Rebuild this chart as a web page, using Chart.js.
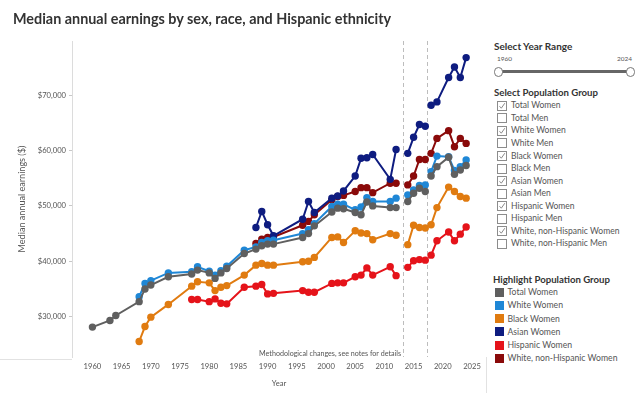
<!DOCTYPE html>
<html>
<head>
<meta charset="utf-8">
<script src="https://cdn.jsdelivr.net/npm/chart.js@4.4.1/dist/chart.umd.min.js"></script>
<style>
  body { margin: 0; width: 640px; height: 393px; background: #fff; overflow: hidden; position: relative; font-family: Lato, sans-serif; }
  #wrap { position: absolute; left: 0; top: 0; width: 490px; height: 393px; }
  .txt { position: absolute; white-space: nowrap; line-height: 14px; height: 14px; }
  .box { position: absolute; width: 8px; height: 8px; border: 1px solid #8c8c8c; background: #fff; }
  .box svg { position: absolute; left: 0; top: 0; }
  .sq { position: absolute; width: 9px; height: 9px; }
</style>
</head>
<body>
<div id="wrap"><canvas id="chart" width="490" height="393"></canvas></div>
<div id="side"></div>
<script>
// years shown in the chart (two methodology breaks: 2013 and 2017)
const years = [1960, 1963, 1964, 1968, 1969, 1970, 1973, 1977, 1978, 1980, 1981, 1982, 1983,
  1986, 1988, 1989, 1990, 1991, 1996, 1997, 1998, 2001, 2002, 2003, 2005, 2006, 2007, 2008,
  2011, 2012, 2014, 2015, 2016, 2017, 2018, 2019, 2021, 2022, 2023, 2024];
const breaks = [2013.2, 2017.3];

const totalWomen = [28100, 29300, 30200, 32700, 35000, 35700, 37200, 37700, 38400, 37900, 36900, 37900, 38700,
  41400, 42200, 42800, 43100, 43100, 44300, 45000, 46400, 48900, 49600, 49500, 48800, 48400, 50700, 50000,
  49700, 49700, 50800, 52300, 53200, 52600, 55400, 57100, 58800, 55700, 56500, 57300];
const whiteWomen = [null, null, null, 33600, 36000, 36500, 37900, 38100, 39000, 38200, 37500, 38300, 39100,
  42000, 42600, 43400, 43700, 43800, 45000, 45700, 46800, 49900, 50300, 50300, 49300, 49800, 51500, 50800,
  50800, 51400, 52000, 52900, 53700, 53800, 56200, 59000, 58900, 56400, 57100, 58300];
const blackWomen = [null, null, null, 25500, 28200, 29900, 32200, 35500, 36300, 36100, 34700, 35300, 35600,
  37500, 39300, 39600, 39300, 39300, 39900, 40000, 40700, 44300, 44400, 43400, 45500, 45100, 45000, 43900,
  45000, 44700, 43000, 46500, 46100, 46000, 46600, 49700, 53400, 52600, 51700, 51400];
const asianWomen = [null, null, null, null, null, null, null, null, null, null, null, null, null,
  null, 46100, 49000, 46600, 44600, 47600, 50800, 48800, 51400, 51800, 52700, 55400, 58600, 58700, 59300,
  54800, 60200, 59500, 62400, 64700, 64400, 68200, 68800, 73200, 75100, 73200, 76800];
const hispanicWomen = [null, null, null, null, null, null, null, 33100, 33100, 32700, 33200, 32400, 32300,
  35300, 35500, 35800, 34100, 34200, 34700, 34400, 34400, 36000, 36100, 36100, 37200, 37500, 38800, 37500,
  39000, 37400, 38900, 40100, 40300, 40200, 41100, 43700, 45300, 43700, 44900, 46200];
const whiteNonHispWomen = [null, null, null, null, null, null, null, null, null, null, null, null, null,
  null, 43200, 44000, 44300, 44400, 46500, 47200, 48400, 51100, 51700, 51900, 52600, 53300, 53300, 52400,
  54100, 54100, 53800, 55400, 58400, 58400, 59500, 62200, 63600, 60700, 62200, 61300];

const xTicks = [1960, 1965, 1970, 1975, 1980, 1985, 1990, 1995, 2000, 2005, 2010, 2015, 2020, 2025];
const yTicks = [30000, 40000, 50000, 60000, 70000];

const groups = ["Total Women", "Total Men", "White Women", "White Men", "Black Women", "Black Men",
  "Asian Women", "Asian Men", "Hispanic Women", "Hispanic Men", "White, non-Hispanic Women", "White, non-Hispanic Men"];
const checked = [1, 0, 1, 0, 1, 0, 1, 0, 1, 0, 1, 0];

const series = [
  { label: "Total Women", values: totalWomen, color: "#5f5f5f" },
  { label: "White Women", values: whiteWomen, color: "#1f87d6" },
  { label: "Black Women", values: blackWomen, color: "#e07b10" },
  { label: "Asian Women", values: asianWomen, color: "#0e1c80" },
  { label: "Hispanic Women", values: hispanicWomen, color: "#e5131a" },
  { label: "White, non-Hispanic Women", values: whiteNonHispWomen, color: "#8a0a0a" },
];

const FONT = "Lato, sans-serif";
const mctx = document.createElement("canvas").getContext("2d");
// font size so that text spans the target width
function fit(text, weight, target) {
  mctx.font = weight + " 100px " + FONT;
  return (100 * target) / mctx.measureText(text).width;
}

function toPoints(vals) {
  const pts = [];
  let prev = null;
  years.forEach((yr, i) => {
    if (vals[i] == null) return;
    if (prev != null && breaks.some((b) => prev < b && yr > b)) pts.push({ x: (prev + yr) / 2, y: null });
    pts.push({ x: yr, y: vals[i] });
    prev = yr;
  });
  return pts;
}

// ---- side panel ----
const side = document.getElementById("side");
function addText(str, left, cy, size, weight, color) {
  const d = document.createElement("div");
  d.className = "txt";
  d.textContent = str;
  d.style.left = left + "px";
  d.style.top = cy - 7 + "px";
  d.style.fontSize = size + "px";
  d.style.fontWeight = weight;
  d.style.color = color;
  side.appendChild(d);
  return d;
}
const titleSize = fit("Median annual earnings by sex, race, and Hispanic ethnicity", "bold", 379);
addText("Median annual earnings by sex, race, and Hispanic ethnicity", 13, 19, titleSize, "bold", "#333");

addText("Select Year Range", 494, 46, fit("Select Year Range", "bold", 79), "bold", "#333");
const smallSize = fit("1960", "normal", 15);
addText("1960", 497, 59, smallSize, "normal", "#555");
addText("2024", 617, 59, smallSize, "normal", "#555");
side.insertAdjacentHTML("beforeend",
  '<div style="position:absolute;left:499px;top:70px;width:131px;height:3px;background:#666"></div>' +
  '<div style="position:absolute;left:494px;top:67px;width:7px;height:8px;border:1px solid #777;border-radius:5px;background:#fff"></div>' +
  '<div style="position:absolute;left:626px;top:67px;width:7px;height:8px;border:1px solid #777;border-radius:5px;background:#fff"></div>');

addText("Select Population Group", 494, 92.7, fit("Select Population Group", "bold", 104), "bold", "#333");
const cbSize = fit("White, non-Hispanic Women", "normal", 108.7);
groups.forEach((g, i) => {
  const cy = 105.3 + i * 12.55;
  const b = document.createElement("div");
  b.className = "box";
  b.style.left = "497px";
  b.style.top = cy - 4.5 + "px";
  if (checked[i]) b.innerHTML = '<svg width="8" height="8"><path d="M1.5 4.2 L3.3 6.2 L6.8 1.2" fill="none" stroke="#8a8a8a" stroke-width="1"/></svg>';
  side.appendChild(b);
  addText(g, 511, cy, cbSize, "normal", "#555");
});

addText("Highlight Population Group", 493, 280, fit("Highlight Population Group", "bold", 117), "bold", "#333");
const lgSize = fit("White, non-Hispanic Women", "normal", 110.3);
series.forEach((s, i) => {
  const cy = 292 + i * 13.27;
  const q = document.createElement("div");
  q.className = "sq";
  q.style.left = "495px";
  q.style.top = cy - 4.5 + "px";
  q.style.background = s.color;
  side.appendChild(q);
  addText(s.label, 507.5, cy, lgSize, "normal", "#555");
});

// ---- chart ----
const tickSize = fit("$70,000", "normal", 28.3);
const axisTitleSize = fit("Median annual earnings ($)", "normal", 107);
const noteSize = fit("Methodological changes, see notes for details", "normal", 142.3);

const overlay = {
  id: "overlay",
  beforeDatasetsDraw(chart) {
    const { ctx, chartArea: a, scales } = chart;
    ctx.save();
    ctx.strokeStyle = "#bdbdbd";
    ctx.lineWidth = 1;
    ctx.setLineDash([4, 3]);
    breaks.forEach((b) => {
      const x = Math.round(scales.x.getPixelForValue(b)) + 0.5;
      ctx.beginPath();
      ctx.moveTo(x, a.top);
      ctx.lineTo(x, a.bottom);
      ctx.stroke();
    });
    ctx.setLineDash([]);
    ctx.strokeStyle = "#e2e2e2";
    ctx.beginPath();
    ctx.moveTo(0, a.bottom + 2.5);
    ctx.lineTo(a.left, a.bottom + 2.5);
    ctx.moveTo(a.right + 0.5, a.bottom);
    ctx.lineTo(a.right + 0.5, 393);
    ctx.stroke();
    ctx.fillStyle = "#555";
    ctx.font = noteSize + "px " + FONT;
    ctx.textAlign = "right";
    ctx.textBaseline = "middle";
    ctx.fillText("Methodological changes, see notes for details", scales.x.getPixelForValue(breaks[0]) - 2, a.bottom - 3);
    ctx.restore();
  },
};

new Chart(document.getElementById("chart"), {
  type: "line",
  data: {
    datasets: series.map((s) => ({
      label: s.label,
      data: toPoints(s.values),
      borderColor: s.color,
      backgroundColor: s.color,
      pointBackgroundColor: s.color,
      pointBorderWidth: 0,
      pointRadius: 3.7,
      borderWidth: 2,
      spanGaps: false,
      tension: 0,
    })),
  },
  options: {
    responsive: false,
    animation: false,
    layout: { padding: { left: 13, top: 41, right: 3, bottom: 0 } },
    plugins: { legend: { display: false }, tooltip: { enabled: false } },
    scales: {
      x: {
        type: "linear",
        min: 1956.5,
        max: 2027.4,
        afterBuildTicks: (sc) => { sc.ticks = xTicks.map((v) => ({ value: v })); },
        afterFit: (sc) => { sc.height = 36; },
        grid: { display: false, drawTicks: false, tickLength: 0 },
        border: { display: false },
        ticks: { color: "#555", padding: 5, font: { family: FONT, size: tickSize }, callback: (v) => String(v), maxRotation: 0 },
        title: { display: true, text: "Year", color: "#555", padding: { top: 0, bottom: 5 }, font: { family: FONT, size: tickSize } },
      },
      y: {
        min: 22700,
        max: 79800,
        afterBuildTicks: (sc) => { sc.ticks = yTicks.map((v) => ({ value: v })); },
        afterFit: (sc) => { sc.width = 59; },
        grid: { drawOnChartArea: false, drawTicks: true, tickLength: 3, color: "#c8c8c8" },
        border: { display: true, color: "#dcdcdc" },
        ticks: { color: "#555", padding: 3, font: { family: FONT, size: tickSize }, callback: (v) => "$" + v.toLocaleString("en-US") },
        title: { display: true, text: "Median annual earnings ($)", color: "#555", padding: { top: 4, bottom: 0 }, font: { family: FONT, size: axisTitleSize } },
      },
    },
  },
  plugins: [overlay],
});
</script>
</body>
</html>
